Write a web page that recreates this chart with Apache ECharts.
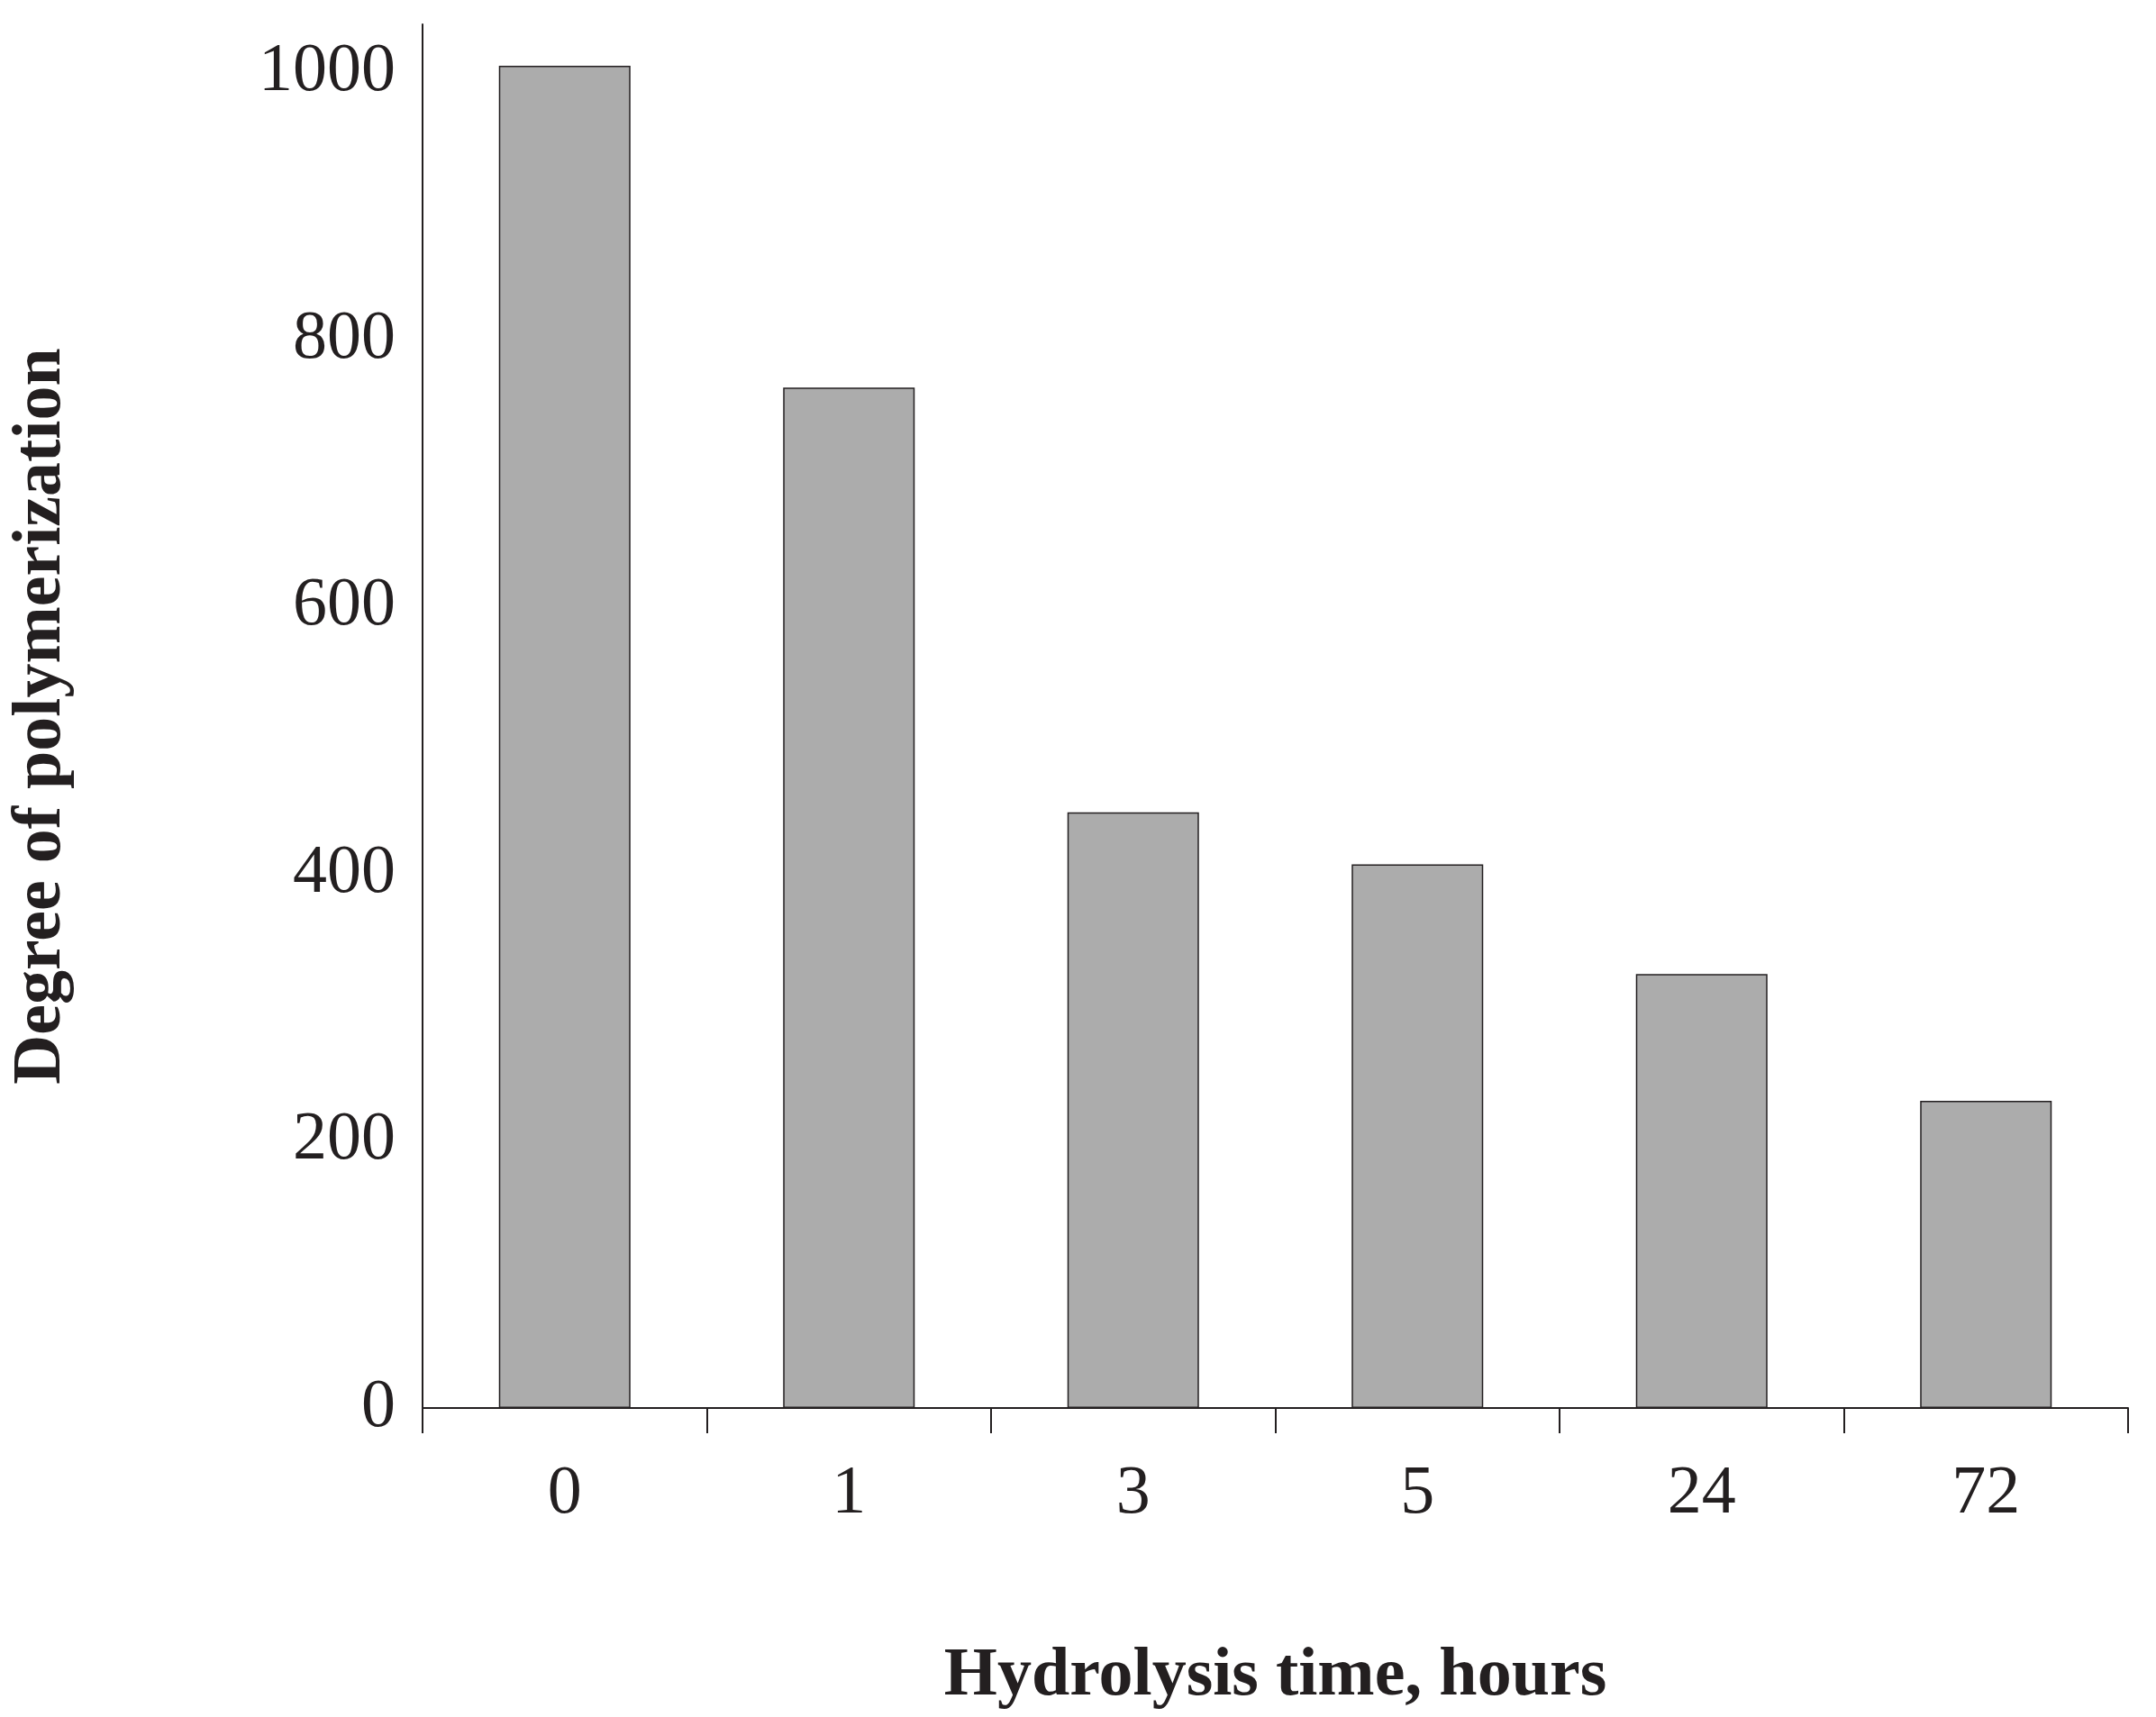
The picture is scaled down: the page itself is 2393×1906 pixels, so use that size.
<!DOCTYPE html>
<html><head><meta charset="utf-8">
<script src="https://cdn.jsdelivr.net/npm/echarts@6/dist/echarts.min.js"></script>
<style>html,body{margin:0;padding:0;background:#fff}#c{width:2393px;height:1906px}</style>
</head><body><div id="c"></div>
<script>
const categories = ['0','1','3','5','24','72'];
const values = [1005, 764, 446, 407, 325, 230];
const yTicks = [0,200,400,600,800,1000];
const font = 'Liberation Serif';
const chart = echarts.init(document.getElementById('c'));
chart.setOption({
  animation:false,
  grid:{left:465,right:31,top:27,bottom:343},
  xAxis:{type:'category',data:categories,name:'Hydrolysis time, hours',nameLocation:'middle',nameGap:260,
    nameTextStyle:{fontFamily:font,fontWeight:'bold',fontSize:76,color:'#231f20'},
    axisLine:{lineStyle:{color:'#231f20',width:2}},
    axisTick:{show:true,alignWithLabel:false,length:28,lineStyle:{color:'#231f20',width:2}},
    axisLabel:{fontFamily:font,fontSize:76,color:'#231f20',margin:58}},
  yAxis:{type:'value',min:0,max:1036,interval:200,name:'Degree of polymerization',nameLocation:'middle',nameGap:385,
    nameTextStyle:{fontFamily:font,fontWeight:'bold',fontSize:76,color:'#231f20'},
    axisLine:{show:true,onZero:false,lineStyle:{color:'#231f20',width:2}},
    axisTick:{show:false},
    splitLine:{show:false},
    axisLabel:{fontFamily:font,fontSize:76,color:'#231f20',margin:30,showMaxLabel:false,
      formatter:v=>yTicks.includes(v)?String(v):''}},
  series:[{type:'bar',data:values,barWidth:146,
    itemStyle:{color:'#acacac',borderColor:'#231f20',borderWidth:1.5}}]
});
</script></body></html>
